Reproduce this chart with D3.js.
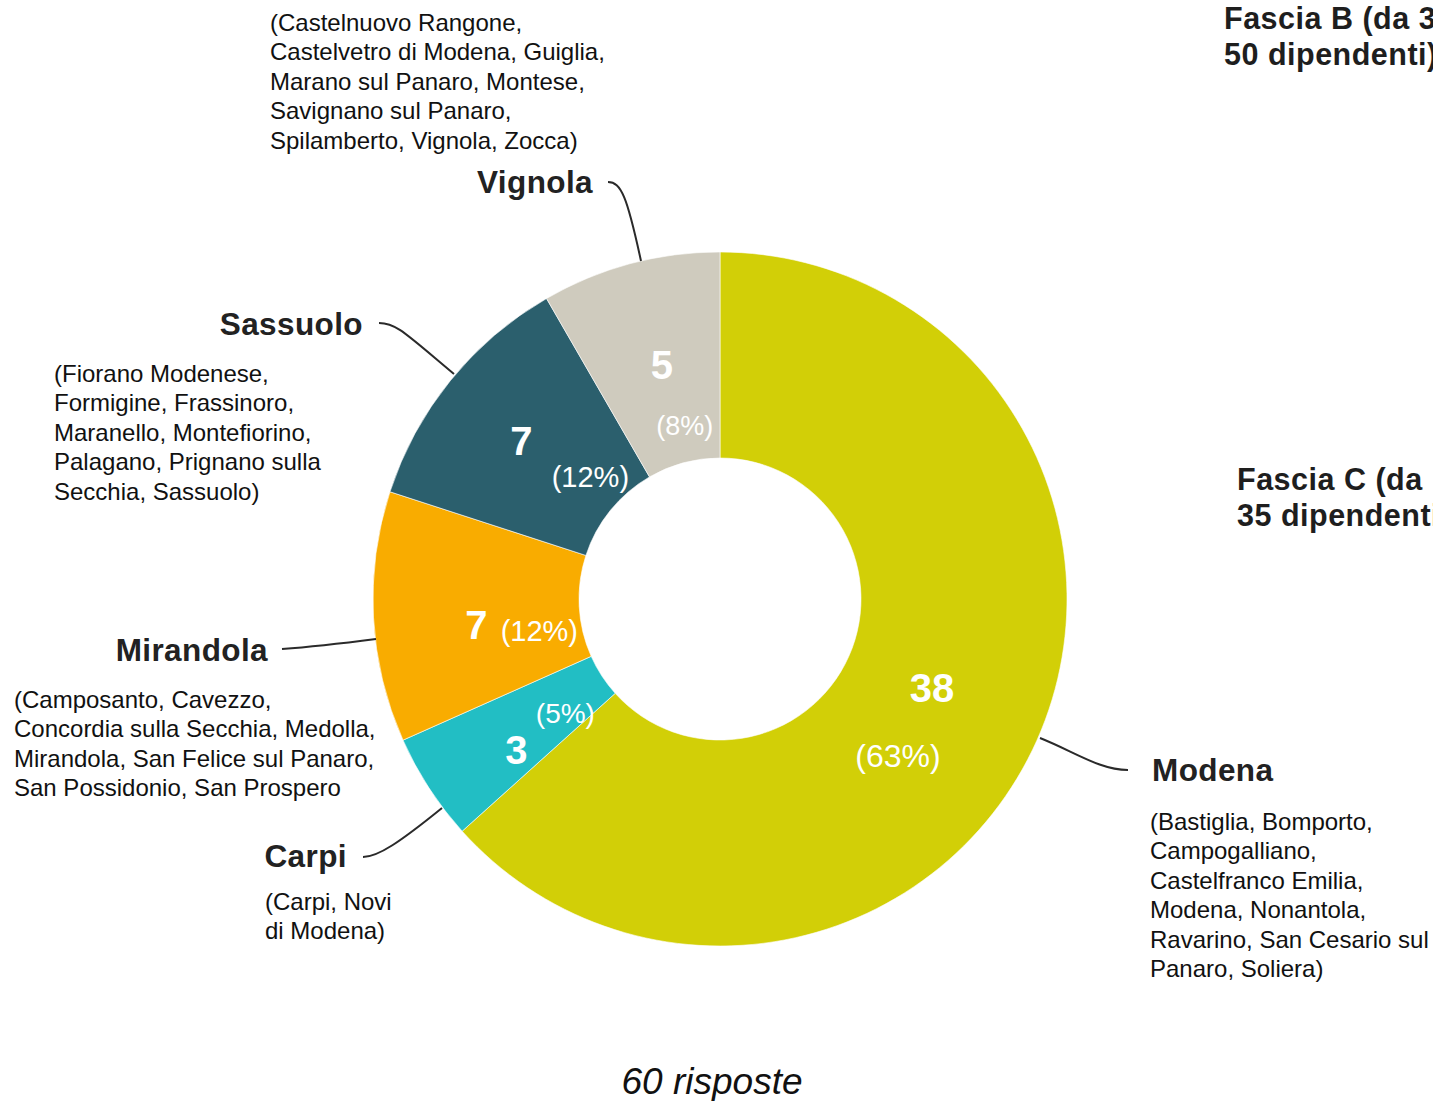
<!DOCTYPE html>
<html>
<head>
<meta charset="utf-8">
<script src="https://cdn.jsdelivr.net/npm/d3@7"></script>
<style>
  html, body { margin: 0; padding: 0; background: #fff; overflow: hidden; }
  svg { display: block; font-family: 'Liberation Sans', Arial, Helvetica, sans-serif; }
</style>
</head>
<body>
<div class="chart"></div>
<script>
// data
const areas = ['Modena', 'Carpi', 'Mirandola', 'Sassuolo', 'Vignola']
const answers = [38, 3, 7, 7, 5]
const colors = ['#d2cf07', '#22bec4', '#f9ac00', '#2b5f6d', '#cfcbbe']
const towns = [
  ['(Bastiglia, Bomporto,', 'Campogalliano,', 'Castelfranco Emilia,', 'Modena, Nonantola,', 'Ravarino, San Cesario sul', 'Panaro, Soliera)'],
  ['(Carpi, Novi', 'di Modena)'],
  ['(Camposanto, Cavezzo,', 'Concordia sulla Secchia, Medolla,', 'Mirandola, San Felice sul Panaro,', 'San Possidonio, San Prospero'],
  ['(Fiorano Modenese,', 'Formigine, Frassinoro,', 'Maranello, Montefiorino,', 'Palagano, Prignano sulla', 'Secchia, Sassuolo)'],
  ['(Castelnuovo Rangone,', 'Castelvetro di Modena, Guiglia,', 'Marano sul Panaro, Montese,', 'Savignano sul Panaro,', 'Spilamberto, Vignola, Zocca)']
]
const sideNotes = [
  ['Fascia B (da 3', '50 dipendenti)'],
  ['Fascia C (da', '35 dipendenti)']
]
const totalLabel = '60 risposte'

// layout (positions only)
const width = 1433
const height = 1101
const cx = 720
const cy = 599
const rOuter = 347
const rInner = 141

// name label anchor, town text start, number / percent offsets from centroid, leader line
const layout = [
  { name: [1152, 781, 'start'], towns: [1150, 830], num: [-11, 4], pct: [-45, 69], pctSize: 32,
    line: [[1040, 738], [1075, 752], [1100, 770], [1128, 770]] },
  { name: [347, 867, 'end'], towns: [265, 910], num: [1, 32], pct: [50, -9], pctSize: 28,
    line: [[363, 857], [378, 857], [400, 842], [442, 808]] },
  { name: [268, 661, 'end'], towns: [14, 708], num: [0, 27], pct: [63, 29], pctSize: 29,
    line: [[282, 649], [310, 647], [345, 643], [376, 639]] },
  { name: [363, 335, 'end'], towns: [54, 382], num: [-9, 10], pct: [60, 42], pctSize: 29,
    line: [[379, 323], [396, 323], [405, 333], [454, 374]] },
  { name: [593, 193, 'end'], towns: [270, 31], num: [5, 16], pct: [28, 72], pctSize: 27,
    line: [[608, 182], [621, 182], [627, 196], [641, 261]] }
]

const svg = d3.select('.chart')
  .append('svg')
  .attr('width', width)
  .attr('height', height)

const pie = d3.pie().sort(null).value(d => d)
const arcs = pie(answers)
const arc = d3.arc().innerRadius(rInner).outerRadius(rOuter)
const total = d3.sum(answers)

const g = svg.append('g').attr('transform', 'translate(' + cx + ',' + cy + ')')

g.selectAll('path.slice')
  .data(arcs)
  .enter()
  .append('path')
  .attr('class', 'slice')
  .attr('d', arc)
  .attr('fill', (d, i) => colors[i])
  .attr('stroke', '#fff')
  .attr('stroke-width', 0.6)

// numbers inside the slices
g.selectAll('text.num')
  .data(arcs)
  .enter()
  .append('text')
  .attr('class', 'num')
  .attr('x', (d, i) => arc.centroid(d)[0] + layout[i].num[0])
  .attr('y', (d, i) => arc.centroid(d)[1] + layout[i].num[1])
  .attr('text-anchor', 'middle')
  .attr('fill', '#fff')
  .style('font-weight', 'bold')
  .style('font-size', '40px')
  .text(d => d.data)

g.selectAll('text.pct')
  .data(arcs)
  .enter()
  .append('text')
  .attr('class', 'pct')
  .attr('x', (d, i) => arc.centroid(d)[0] + layout[i].pct[0])
  .attr('y', (d, i) => arc.centroid(d)[1] + layout[i].pct[1])
  .attr('text-anchor', 'middle')
  .attr('fill', '#fff')
  .style('font-size', (d, i) => layout[i].pctSize + 'px')
  .text(d => '(' + Math.round(d.data / total * 100) + '%)')

// leader lines
svg.selectAll('path.leader')
  .data(layout)
  .enter()
  .append('path')
  .attr('class', 'leader')
  .attr('d', d => {
    const p = d.line
    return 'M' + p[0] + 'C' + p[1] + ' ' + p[2] + ' ' + p[3]
  })
  .attr('fill', 'none')
  .attr('stroke', '#2a2a2a')
  .attr('stroke-width', 2)

// area names
svg.selectAll('text.name')
  .data(areas)
  .enter()
  .append('text')
  .attr('class', 'name')
  .attr('x', (d, i) => layout[i].name[0])
  .attr('y', (d, i) => layout[i].name[1])
  .attr('text-anchor', (d, i) => layout[i].name[2])
  .attr('fill', '#222')
  .style('font-weight', 'bold')
  .style('font-size', '31.5px')
  .style('letter-spacing', '0.4px')
  .text(d => d)

// town lists
towns.forEach((lines, i) => {
  const t = svg.append('text')
    .attr('x', layout[i].towns[0])
    .attr('y', layout[i].towns[1])
    .attr('fill', '#111')
    .style('font-size', '24px')
  lines.forEach((line, j) => {
    t.append('tspan')
      .attr('x', layout[i].towns[0])
      .attr('dy', j === 0 ? 0 : 29.4)
      .text(line)
  })
})

// notes cut at the right edge, as in the source
const notePos = [[1224, 29], [1237, 490]]
sideNotes.forEach((lines, i) => {
  const t = svg.append('text')
    .attr('x', notePos[i][0])
    .attr('y', notePos[i][1])
    .attr('fill', '#1e1e1e')
    .style('font-weight', 'bold')
    .style('font-size', '30.5px')
    .style('letter-spacing', '0.5px')
  lines.forEach((line, j) => {
    t.append('tspan')
      .attr('x', notePos[i][0])
      .attr('dy', j === 0 ? 0 : 36)
      .text(line)
  })
})

svg.append('text')
  .attr('x', 712)
  .attr('y', 1094)
  .attr('text-anchor', 'middle')
  .attr('fill', '#111')
  .style('font-style', 'italic')
  .style('font-size', '37px')
  .text(totalLabel)
</script>
</body>
</html>
